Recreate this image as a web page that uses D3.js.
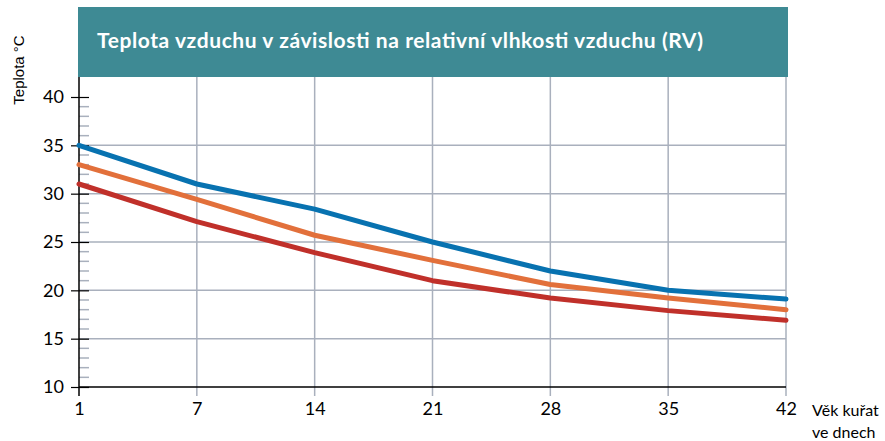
<!DOCTYPE html>
<html><head><meta charset="utf-8">
<script src="https://cdn.jsdelivr.net/npm/d3@7"></script>
<style>body{margin:0;background:#fff}svg{display:block}</style>
</head><body>
<svg id="c" width="885" height="441"></svg>
<script>
const days = ["1","7","14","21","28","35","42"];
const seriesBlue = [35, 31.0, 28.4, 25.0, 22.0, 20.0, 19.1];
const seriesOrange = [33, 29.4, 25.7, 23.1, 20.6, 19.2, 18.0];
const seriesRed = [31, 27.1, 23.9, 21.0, 19.2, 17.9, 16.9];
const yTicks = [10, 15, 20, 25, 30, 35, 40];
const minorTicks = d3.range(10, 41).filter(v => v % 5 !== 0);
const title = "Teplota vzduchu v závislosti na relativní vlhkosti vzduchu (RV)";
const yLabel = "Teplota °C";
const xLabel = ["Věk kuřat", "ve dnech"];

const svg = d3.select("#c");
const x = d3.scalePoint().domain(days).range([79, 786]);
const y = d3.scaleLinear().domain([10, 40]).range([387, 97]);
const grid = "#a9b0bd";
const font = "Lato, 'Open Sans', sans-serif";

// title box
svg.append("rect").attr("x", 78).attr("y", 7).attr("width", 710).attr("height", 70).attr("fill", "#3e8a94");
svg.append("text").attr("x", 97).attr("y", 48).attr("fill", "#fff")
  .attr("font-family", font).attr("font-weight", "bold").attr("font-size", 21)
  .attr("textLength", 606).attr("lengthAdjust", "spacing").text(title);

// vertical gridlines
svg.append("g").selectAll("line").data(days.slice(1)).join("line")
  .attr("x1", d => x(d)).attr("x2", d => x(d)).attr("y1", 77).attr("y2", 396)
  .attr("stroke", grid).attr("stroke-width", 1.5);
// horizontal gridlines
svg.append("g").selectAll("line").data(yTicks.slice(1, -1)).join("line")
  .attr("x1", 79).attr("x2", 786).attr("y1", d => y(d)).attr("y2", d => y(d))
  .attr("stroke", grid).attr("stroke-width", 1.5);
// minor ticks
svg.append("g").selectAll("line").data(minorTicks).join("line")
  .attr("x1", 79).attr("x2", 89).attr("y1", d => y(d)).attr("y2", d => y(d))
  .attr("stroke", grid).attr("stroke-width", 1.5);

// y axis
const yAxis = d3.axisLeft(y).tickValues(yTicks).tickSize(8).tickPadding(7);
const gy = svg.append("g").attr("transform", "translate(79,0)").call(yAxis);
gy.select(".domain").remove();
gy.selectAll(".tick line").attr("stroke", "#000").attr("stroke-width", 1.2).attr("x2", -8).attr("x1", 10);
gy.selectAll("text").attr("font-family", font).attr("font-size", 18).attr("fill", "#000");
svg.append("line").attr("x1", 79).attr("x2", 79).attr("y1", 77).attr("y2", 396)
  .attr("stroke", "#000").attr("stroke-width", 1.5);

// x axis
const xAxis = d3.axisBottom(x).tickSize(0).tickPadding(15);
const gx = svg.append("g").attr("transform", "translate(0,387)").call(xAxis);
gx.select(".domain").remove();
gx.selectAll("text").attr("font-family", font).attr("font-size", 18).attr("fill", "#000");
svg.append("line").attr("x1", 79).attr("x2", 786).attr("y1", 387).attr("y2", 387)
  .attr("stroke", "#000").attr("stroke-width", 1.5);

// lines
const line = d3.line().x((d, i) => x(days[i])).y(d => y(d));
[[seriesBlue, "#0872b0"], [seriesOrange, "#e2703b"], [seriesRed, "#c0302a"]].forEach(([s, c]) => {
  svg.append("path").datum(s).attr("d", line).attr("fill", "none").attr("stroke", c)
    .attr("stroke-width", 5).attr("stroke-linecap", "round").attr("stroke-linejoin", "round");
});

// labels
svg.append("text").attr("transform", "translate(24,70) rotate(-90)").attr("text-anchor", "middle")
  .attr("font-family", "'Liberation Sans', Arial, sans-serif").attr("font-size", 15).attr("fill", "#000").text(yLabel);
svg.append("text").attr("x", 812).attr("y", 416).attr("font-family", font).attr("font-size", 16).attr("fill", "#000").text(xLabel[0]);
svg.append("text").attr("x", 812).attr("y", 438).attr("font-family", font).attr("font-size", 16).attr("fill", "#000").text(xLabel[1]);
</script>
</body></html>
